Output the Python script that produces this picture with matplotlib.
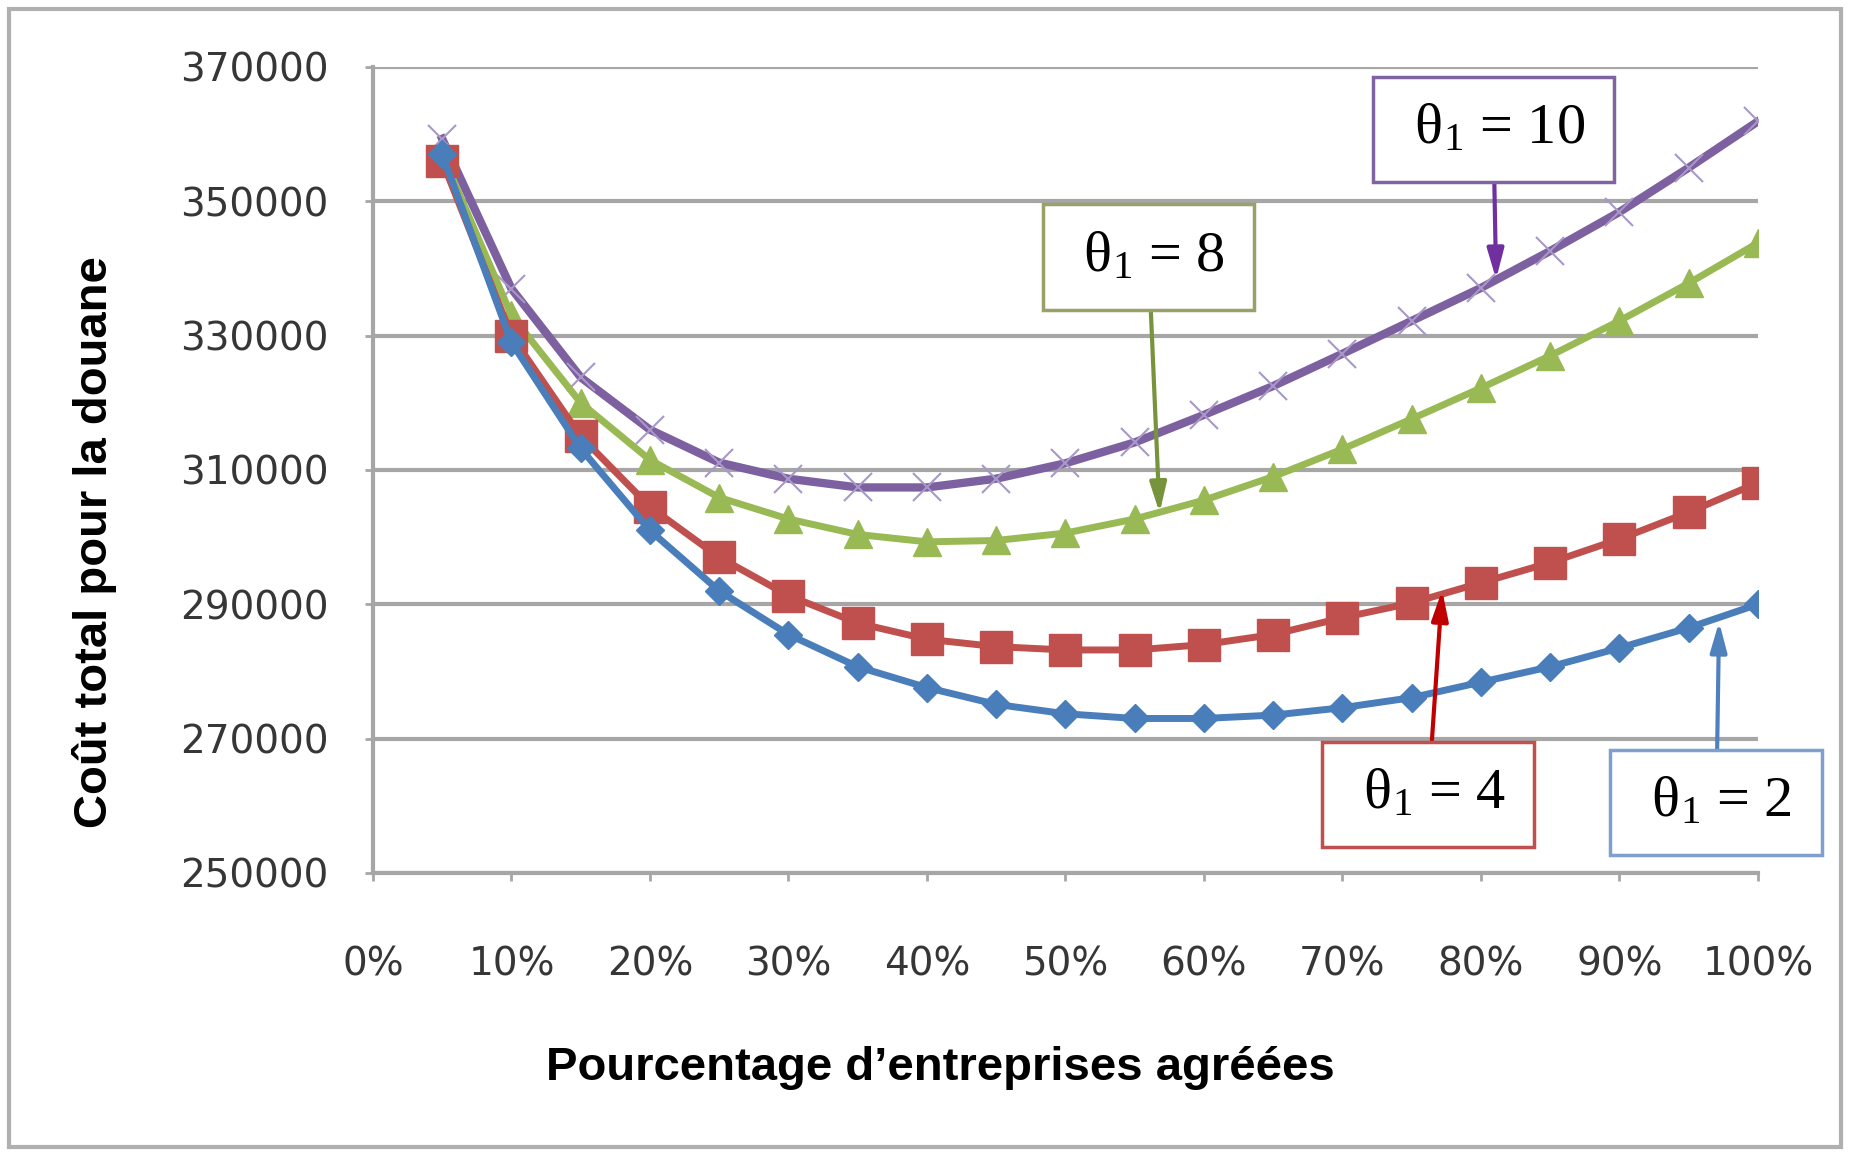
import numpy as np
import matplotlib.pyplot as plt
from matplotlib.patches import Rectangle
from matplotlib.ticker import FuncFormatter

plt.rcParams['mathtext.fontset'] = 'custom'
plt.rcParams['mathtext.rm'] = 'Liberation Serif'
plt.rcParams['mathtext.it'] = 'Liberation Serif:italic'

# pourcentage d'entreprises agreees
pct = [0.05, 0.10, 0.15, 0.20, 0.25, 0.30, 0.35, 0.40, 0.45, 0.50,
       0.55, 0.60, 0.65, 0.70, 0.75, 0.80, 0.85, 0.90, 0.95, 1.00]

# cout total pour la douane, one list per theta_1
cost_t2 = [357000, 329000, 313200, 301000, 292000, 285500, 280700, 277600, 275100, 273700,
           273000, 273000, 273500, 274600, 276100, 278400, 280700, 283500, 286500, 290000]
cost_t4 = [356000, 330000, 315000, 304500, 297000, 291300, 287200, 284800, 283700, 283200,
           283200, 284000, 285500, 288000, 290200, 293200, 296200, 299700, 303700, 308100]
cost_t8 = [357000, 333000, 320000, 311500, 305900, 302700, 300400, 299300, 299500, 300600,
           302700, 305500, 309000, 313100, 317600, 322200, 327000, 332200, 337800, 343800]
cost_t10 = [359300, 337000, 323800, 316000, 311100, 308700, 307400, 307400, 308700, 311000,
            314100, 318200, 322500, 327300, 332200, 337100, 342600, 348400, 355000, 361900]

yticks = [250000, 270000, 290000, 310000, 330000, 350000, 370000]
xticks = [0.0, 0.1, 0.2, 0.3, 0.4, 0.5, 0.6, 0.7, 0.8, 0.9, 1.0]

fig = plt.figure(figsize=(18.5, 11.55), dpi=100)
ax = fig.add_axes([0.2016, 0.2442, 0.7486, 0.6978])

# outer frame
fig.patches.append(Rectangle((0.005, 0.007), 0.99, 0.985, transform=fig.transFigure,
                             fill=False, edgecolor='#b0b0b0', lw=3))

ax.plot(pct, cost_t10, color='#7d60a0', lw=6, marker='x', ms=20, mew=1.5,
        mec='#a898c8', zorder=3)
ax.plot(pct, cost_t8, color='#98b954', lw=5, marker='^', ms=20, zorder=4)
ax.plot(pct, cost_t4, color='#c0504d', lw=5, marker='s', ms=23, zorder=5)
ax.plot(pct, cost_t2, color='#4a7ebb', lw=5, marker='D', ms=14, zorder=6)

ax.set_xlim(0, 1)
ax.set_ylim(250000, 370000)
ax.set_yticks(yticks)
ax.set_xticks(xticks)
ax.xaxis.set_major_formatter(FuncFormatter(lambda v, p: '%d%%' % round(v * 100)))
ax.grid(axis='y', color='#a6a6a6', lw=3)
ax.set_axisbelow(True)
for s in ['top', 'right']:
    ax.spines[s].set_visible(False)
for s in ['left', 'bottom']:
    ax.spines[s].set_color('#a6a6a6')
    ax.spines[s].set_linewidth(3)
ax.tick_params(axis='both', colors='#a6a6a6', width=2, length=6, labelcolor='#363636',
               labelsize=28)
ax.tick_params(axis='x', pad=46)
ax.tick_params(axis='y', pad=26)

ax.set_ylabel('Coût total pour la douane', family='Liberation Sans', fontweight='bold',
              fontsize=34)
ax.yaxis.set_label_coords(-0.185, 0.41)
ax.set_xlabel('Pourcentage d\u2019entreprises agréées', family='Liberation Sans',
              fontweight='bold', fontsize=34)
ax.xaxis.set_label_coords(0.41, -0.215)

labels = [
    (' \u03b8$_1$ = 10 ', (0.809, 360700), (0.811, 338400), '#8064a2', '#7030a0'),
    (' \u03b8$_1$ = 8 ', (0.560, 341700), (0.568, 303600), '#9ba06b', '#77933c'),
    (' \u03b8$_1$ = 4 ', (0.762, 261700), (0.772, 292100), '#c0504d', '#c00000'),
    (' \u03b8$_1$ = 2 ', (0.970, 260500), (0.972, 287400), '#7f9fcf', '#4f81bd'),
]
for txt, xytext, xy, ec, ac in labels:
    ax.annotate(txt, xy=xy, xytext=xytext, ha='center', va='center', fontsize=42,
                family='Liberation Serif', annotation_clip=False, zorder=10,
                bbox=dict(boxstyle='square,pad=0.46', fc='white', ec=ec, lw=2.5),
                arrowprops=dict(arrowstyle='-|>,head_length=0.9,head_width=0.25',
                                color=ac, lw=3, shrinkA=0, shrinkB=0, mutation_scale=20))

fig.savefig('out.png', dpi=100)
